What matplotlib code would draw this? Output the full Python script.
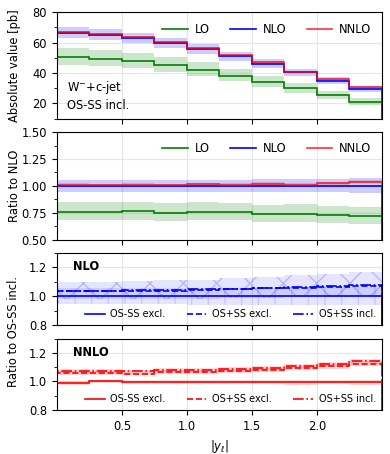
import matplotlib
matplotlib.use("Agg")
import matplotlib.pyplot as plt
import numpy as np
from matplotlib.ticker import AutoMinorLocator

plt.rc('font', family='DejaVu Sans', size=8.3)

# bins in |y_l|
edges = [0.0, 0.25, 0.5, 0.75, 1.0, 1.25, 1.5, 1.75, 2.0, 2.25, 2.5]

# absolute cross sections [pb], OS-SS incl.
lo = [50.4, 49.5, 48.0, 45.1, 42.3, 38.4, 34.2, 30.0, 25.5, 21.3]
lo_up = [56.2, 55.2, 53.5, 50.3, 47.2, 42.8, 38.1, 33.5, 28.4, 23.7]
lo_dn = [45.4, 44.6, 43.2, 40.6, 38.1, 34.6, 30.8, 27.0, 23.0, 19.0]
nlo = [66.5, 65.2, 63.0, 60.0, 55.7, 51.0, 46.3, 40.5, 35.0, 29.5]
nlo_up = [70.2, 68.8, 66.5, 63.4, 58.9, 53.9, 49.1, 43.0, 37.3, 31.6]
nlo_dn = [62.8, 61.6, 59.5, 56.6, 52.6, 48.1, 43.6, 38.1, 32.9, 27.6]
nnlo = [67.2, 65.8, 63.7, 60.6, 56.4, 51.6, 47.3, 41.0, 35.8, 30.6]
nnlo_up = [68.0, 66.6, 64.5, 61.3, 57.1, 52.2, 47.9, 41.5, 36.2, 31.0]
nnlo_dn = [66.5, 65.1, 63.0, 60.0, 55.8, 51.1, 46.8, 40.6, 35.4, 30.3]

# ratios to OS-SS incl., NLO
nlo_r_osss_ex = [1.0, 1.0, 1.0, 1.0, 1.0, 1.0, 1.0, 1.0, 1.0, 1.0]
nlo_r_osss_ex_up = [1.055, 1.055, 1.055, 1.056, 1.057, 1.058, 1.06, 1.062, 1.064, 1.066]
nlo_r_osss_ex_dn = [0.945, 0.945, 0.945, 0.944, 0.943, 0.942, 0.941, 0.94, 0.94, 0.94]
nlo_r_ospss_ex = [1.035, 1.035, 1.04, 1.04, 1.045, 1.05, 1.055, 1.06, 1.065, 1.072]
nlo_r_ospss_in = [1.04, 1.04, 1.043, 1.045, 1.048, 1.053, 1.058, 1.063, 1.07, 1.078]
nlo_r_ospss_up = [1.10, 1.10, 1.105, 1.11, 1.115, 1.125, 1.135, 1.145, 1.155, 1.165]
nlo_r_ospss_dn = [0.98, 0.98, 0.98, 0.985, 0.985, 0.99, 0.99, 0.995, 0.995, 1.0]

# ratios to OS-SS incl., NNLO
nnlo_r_osss_ex = [0.99, 1.0, 0.995, 0.995, 0.995, 0.995, 0.993, 0.993, 0.995, 0.995]
nnlo_r_ospss_ex = [1.058, 1.058, 1.055, 1.065, 1.068, 1.075, 1.082, 1.095, 1.105, 1.125]
nnlo_r_ospss_in = [1.072, 1.072, 1.07, 1.078, 1.082, 1.088, 1.095, 1.108, 1.12, 1.14]
nnlo_r_err = [0.012, 0.012, 0.012, 0.013, 0.013, 0.014, 0.014, 0.015, 0.016, 0.017]

edges = np.array(edges)
lo, lo_up, lo_dn = np.array(lo), np.array(lo_up), np.array(lo_dn)
nlo, nlo_up, nlo_dn = np.array(nlo), np.array(nlo_up), np.array(nlo_dn)
nnlo, nnlo_up, nnlo_dn = np.array(nnlo), np.array(nnlo_up), np.array(nnlo_dn)
err = np.array(nnlo_r_err)

fig = plt.figure(figsize=(3.9, 4.54), dpi=100)
gs = fig.add_gridspec(4, 1, height_ratios=[106, 107, 72, 71], hspace=0.15,
                      left=0.146, right=0.979, top=0.973, bottom=0.097)
ax1 = fig.add_subplot(gs[0])
ax2 = fig.add_subplot(gs[1], sharex=ax1)
ax3 = fig.add_subplot(gs[2], sharex=ax1)
ax4 = fig.add_subplot(gs[3], sharex=ax1)

leg_kw = dict(ncol=3, frameon=False, fontsize=8.3, handlelength=2.2,
              handletextpad=0.6, columnspacing=1.8)
leg_kw2 = dict(loc='lower right', ncol=3, frameon=False, fontsize=7, handlelength=2.0,
               handletextpad=0.6, columnspacing=2.2, borderaxespad=0.2)

#------------------------------- absolute values
for c, v, up, dn, lab in [('green', lo, lo_up, lo_dn, 'LO'),
                          ('blue', nlo, nlo_up, nlo_dn, 'NLO'),
                          ('red', nnlo, nnlo_up, nnlo_dn, 'NNLO')]:
    ax1.stairs(up, edges, baseline=dn, fill=True, color=c, alpha=0.2, lw=0)
    ax1.stairs(v, edges, color=c, alpha=0.8 if c == 'red' else 1.0, lw=1.2, label=lab)
ax1.set_ylim(10, 80)
ax1.set_ylabel("Absolute value [pb]")
ax1.text(0.03, 0.06, "W$^{-}$+c-jet\nOS-SS incl.", transform=ax1.transAxes,
         ha='left', va='bottom', linespacing=1.3)
ax1.legend(loc='upper right', **leg_kw)

#------------------------------- ratio to NLO
for c, v, up, dn, lab in [('green', lo, lo_up, lo_dn, 'LO'),
                          ('blue', nlo, nlo_up, nlo_dn, 'NLO'),
                          ('red', nnlo, nnlo_up, nnlo_dn, 'NNLO')]:
    ax2.stairs(up / nlo, edges, baseline=dn / nlo, fill=True, color=c, alpha=0.2, lw=0)
    ax2.stairs(v / nlo, edges, color=c, alpha=0.8 if c == 'red' else 1.0, lw=1.2, label=lab)
ax2.set_ylim(0.5, 1.5)
ax2.set_yticks([0.5, 0.75, 1.0, 1.25, 1.5])
ax2.set_ylabel("Ratio to NLO")
ax2.legend(loc='upper right', **leg_kw)

#------------------------------- NLO OS/SS ratios
ax3.stairs(nlo_r_osss_ex_up, edges, baseline=nlo_r_osss_ex_dn, fill=True,
           color='blue', alpha=0.1, lw=0)
ax3.stairs(nlo_r_osss_ex_up, edges, baseline=nlo_r_osss_ex_dn, fill=True,
           facecolor='none', edgecolor=(0, 0, 1, 0.12), hatch='|', lw=0)
ax3.stairs(nlo_r_ospss_up, edges, baseline=nlo_r_ospss_dn, fill=True,
           color='blue', alpha=0.1, lw=0)
ax3.stairs(nlo_r_ospss_up, edges, baseline=nlo_r_ospss_dn, fill=True,
           facecolor='none', edgecolor=(0, 0, 1, 0.2), hatch='x', lw=0)
ax3.stairs(nlo_r_osss_ex, edges, color='blue', lw=1.2, label='OS-SS excl.')
ax3.stairs(nlo_r_ospss_ex, edges, color='blue', lw=1.2, ls='--', label='OS+SS excl.')
ax3.stairs(nlo_r_ospss_in, edges, color='blue', lw=1.2, ls='-.', label='OS+SS incl.')
ax3.set_ylim(0.8, 1.3)
ax3.set_yticks([0.8, 1.0, 1.2])
ax3.text(0.05, 0.9, "NLO", transform=ax3.transAxes, fontweight='bold',
         ha='left', va='top')
ax3.legend(**leg_kw2)

#------------------------------- NNLO OS/SS ratios
for v in [nnlo_r_osss_ex, nnlo_r_ospss_ex, nnlo_r_ospss_in]:
    v = np.array(v)
    ax4.stairs(v + err, edges, baseline=v - err, fill=True, color='red', alpha=0.15, lw=0)
ax4.stairs(nnlo_r_osss_ex, edges, color='red', lw=1.2, label='OS-SS excl.')
ax4.stairs(nnlo_r_ospss_ex, edges, color='red', lw=1.2, ls='--', label='OS+SS excl.')
ax4.stairs(nnlo_r_ospss_in, edges, color='red', lw=1.2, ls='-.', label='OS+SS incl.')
ax4.set_ylim(0.8, 1.3)
ax4.set_yticks([0.8, 1.0, 1.2])
ax4.text(0.05, 0.9, "NNLO", transform=ax4.transAxes, fontweight='bold',
         ha='left', va='top')
ax4.legend(**leg_kw2)

fig.text(0.035, 0.269, "Ratio to OS-SS incl.", rotation=90, ha='center', va='center')

for ax in [ax1, ax2, ax3, ax4]:
    ax.grid(True, color='#e6e6e6', lw=0.8)
    ax.set_axisbelow(True)
    ax.yaxis.set_minor_locator(AutoMinorLocator(2))
    ax.set_xlim(0, 2.5)
    ax.set_xticks([0.5, 1.0, 1.5, 2.0])
for ax in [ax1, ax2, ax3]:
    ax.tick_params(labelbottom=False)
ax4.set_xlabel(r"$|y_\ell|$")

ax1.yaxis.set_label_coords(-0.11, 0.5)
ax2.yaxis.set_label_coords(-0.11, 0.5)

plt.savefig("out.png", dpi=100)
